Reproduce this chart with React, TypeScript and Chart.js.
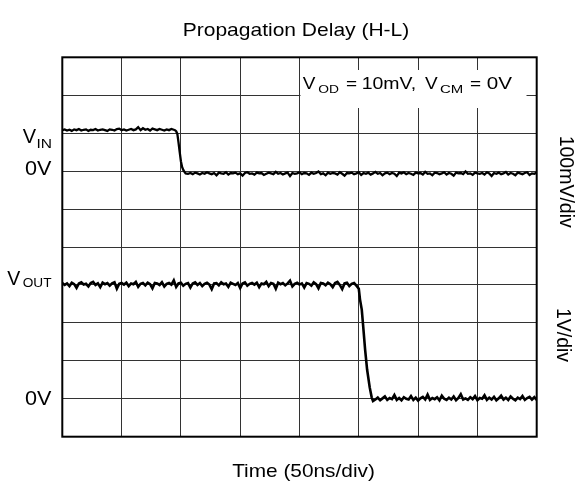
import { useEffect, useRef } from "react";
import { Chart, registerables } from "chart.js";

Chart.register(...registerables);

const FONT = '"Liberation Sans", Arial, Helvetica, sans-serif';

// ---- text ----
const titleText = "Propagation Delay (H-L)";
const xAxisText = "Time (50ns/div)";
const vinScaleText = "100mV/div";
const voutScaleText = "1V/div";

// ---- axes (time in ns, V_IN in mV, V_OUT in V) ----
const timeRange = [0, 400];
const timeStep = 50;
const vinRange = [-700, 300];
const vinStep = 100;
const voutRange = [-1, 9];

// ---- traces: [time ns, value] ----
const vinTrace: [number, number][] = [
  [0, 108], [2, 110], [4, 107], [6, 109], [8, 106], [10, 110], [12, 108], [14, 111], [16, 107], [18, 109],
  [20, 110], [22, 106], [24, 109], [26, 108], [28, 111], [30, 107], [32, 109], [34, 110], [36, 108], [38, 106],
  [40, 110], [42, 109], [44, 107], [46, 111], [48, 112], [50, 108], [52, 110], [54, 107], [56, 109], [58, 111],
  [60, 108], [62, 110], [64, 116], [66, 108], [68, 113], [70, 109], [72, 111], [74, 107], [76, 112], [78, 110],
  [80, 108], [82, 111], [84, 109], [86, 107], [88, 110], [90, 108], [92, 111], [94, 109],
  [95, 108], [96, 105], [97, 98], [98, 75], [99, 50], [100, 26], [101, 11], [102, 3], [103, -2], [104, -6],
  [106, -7], [108, -5], [110, -8], [112, -4], [114, -6], [116, -9], [118, -5], [120, -7], [122, -3], [124, -6],
  [126, -8], [128, -5], [130, -11], [132, -4], [134, -6], [136, -7], [138, -3], [140, -9], [142, -5], [144, -6],
  [146, -4], [148, -8], [150, -6], [152, -12], [154, -5], [156, -3], [158, -7], [160, -6], [162, -9], [164, -4],
  [166, -6], [168, -5], [170, -10], [172, -7], [174, -4], [176, -6], [178, -8], [180, -2], [182, -7], [184, -5],
  [186, -9], [188, -6], [190, -4], [192, -13], [194, -5], [196, -7], [198, -6], [200, -3], [202, -8], [204, -5],
  [206, -6], [208, -10], [210, -4], [212, -7], [214, -5], [216, -1], [218, -8], [220, -6], [222, -11], [224, -4],
  [226, -7], [228, -5], [230, -6], [232, -9], [234, -3], [236, -7], [238, -12], [240, -5], [242, -6], [244, -4],
  [246, -8], [248, -6], [250, -3], [252, -10], [254, -5], [256, -7], [258, -4], [260, -9], [262, -6], [264, -2],
  [266, -7], [268, -5], [270, -11], [272, -6], [274, -4], [276, -8], [278, -5], [280, -7], [282, -13], [284, -4],
  [286, -6], [288, -3], [290, -8], [292, -5], [294, -7], [296, -10], [298, -4], [300, -6], [302, -5], [304, -9],
  [306, -2], [308, -7], [310, -6], [312, -11], [314, -4], [316, -5], [318, -8], [320, -6], [322, -3], [324, -9],
  [326, -5], [328, -7], [330, -12], [332, -4], [334, -6], [336, -5], [338, -8], [340, -1], [342, -7], [344, -6],
  [346, -10], [348, -4], [350, -6], [352, -7], [354, -5], [356, -9], [358, -3], [360, -6], [362, -13], [364, -5],
  [366, -7], [368, -4], [370, -8], [372, -6], [374, -2], [376, -9], [378, -5], [380, -7], [382, -11], [384, -4],
  [386, -6], [388, -8], [390, -5], [392, -3], [394, -10], [396, -6], [398, -7], [400, -4],
];

const voutTrace: [number, number][] = [
  [0, 3.05], [2, 3.0], [4, 3.04], [6, 2.97], [8, 3.06], [10, 3.02], [12, 2.92], [14, 3.04], [16, 3.07], [18, 3.01],
  [20, 3.03], [22, 2.96], [24, 3.05], [26, 3.08], [28, 3.0], [30, 3.04], [32, 2.94], [34, 3.06], [36, 3.02], [38, 3.05],
  [40, 2.98], [42, 3.04], [44, 3.07], [46, 2.9], [48, 3.03], [50, 3.05], [52, 3.01], [54, 3.06], [56, 2.97], [58, 3.04],
  [60, 3.02], [62, 3.08], [64, 2.95], [66, 3.03], [68, 3.05], [70, 2.99], [72, 3.06], [74, 3.02], [76, 2.91], [78, 3.05],
  [80, 3.04], [82, 3.0], [84, 3.07], [86, 2.96], [88, 3.03], [90, 3.05], [92, 3.01], [94, 3.12], [96, 2.95], [98, 3.04],
  [100, 3.06], [102, 2.98], [104, 3.03], [106, 3.05], [108, 2.93], [110, 3.04], [112, 3.07], [114, 3.0], [116, 3.05], [118, 2.97],
  [120, 3.03], [122, 3.06], [124, 3.01], [126, 2.89], [128, 3.04], [130, 3.05], [132, 2.99], [134, 3.07], [136, 3.02], [138, 3.04],
  [140, 2.95], [142, 3.06], [144, 3.03], [146, 3.0], [148, 3.05], [150, 2.92], [152, 3.04], [154, 3.07], [156, 2.98], [158, 3.03],
  [160, 3.05], [162, 3.01], [164, 3.06], [166, 2.94], [168, 3.04], [170, 3.02], [172, 3.08], [174, 2.97], [176, 3.05], [178, 3.03],
  [180, 2.9], [182, 3.06], [184, 3.02], [186, 3.05], [188, 2.99], [190, 3.04], [192, 3.11], [194, 2.96], [196, 3.03], [198, 3.06],
  [200, 3.01], [202, 3.04], [204, 2.93], [206, 3.05], [208, 3.03], [210, 2.98], [212, 3.07], [214, 3.02], [216, 2.91], [218, 3.05],
  [220, 3.04], [222, 2.99], [224, 3.06], [226, 3.02], [228, 2.94], [230, 3.05], [232, 3.08], [234, 3.0], [236, 2.89], [238, 3.04],
  [240, 3.06], [242, 2.97], [244, 3.03], [246, 3.05], [248, 2.98],
  [250, 2.9], [251, 2.62], [252.5, 2.35], [253.6, 1.95], [255.3, 1.3], [257, 0.77], [259.2, 0.3],
  [260.9, 0.03], [262, -0.06],
  [264, -0.02], [266, 0.03], [268, -0.04], [270, 0.01], [272, 0.06], [274, -0.03], [276, 0.02], [278, -0.01], [280, 0.1], [282, -0.03],
  [284, 0.02], [286, -0.04], [288, 0.04], [290, 0.0], [292, -0.02], [294, 0.07], [296, -0.03], [298, 0.03], [300, -0.05], [302, 0.01],
  [304, 0.05], [306, -0.02], [308, 0.11], [310, -0.03], [312, 0.02], [314, -0.01], [316, 0.04], [318, -0.04], [320, 0.08], [322, 0.0],
  [324, -0.03], [326, 0.03], [328, -0.02], [330, 0.06], [332, -0.04], [334, 0.02], [336, 0.12], [338, -0.02], [340, 0.01], [342, -0.03],
  [344, 0.04], [346, -0.01], [348, 0.07], [350, -0.04], [352, 0.02], [354, 0.0], [356, 0.09], [358, -0.03], [360, 0.03], [362, -0.02],
  [364, 0.05], [366, -0.04], [368, 0.01], [370, 0.08], [372, -0.02], [374, 0.03], [376, -0.03], [378, 0.06], [380, 0.0], [382, -0.04],
  [384, 0.03], [386, -0.01], [388, 0.07], [390, -0.03], [392, 0.02], [394, 0.05], [396, -0.02], [398, 0.04], [400, -0.03],
];

function drawText(
  ctx: CanvasRenderingContext2D,
  s: string,
  x: number,
  y: number,
  size: number,
  sx = 1,
  align: CanvasTextAlign = "left",
  rot = 0
) {
  ctx.save();
  ctx.font = `${size}px ${FONT}`;
  ctx.fillStyle = "#000";
  ctx.textAlign = align;
  ctx.textBaseline = "alphabetic";
  ctx.translate(x, y);
  if (rot) ctx.rotate(rot);
  ctx.scale(sx, 1);
  ctx.fillText(s, 0, 0);
  ctx.restore();
}

const annotatePlugin = {
  id: "annotate",
  beforeDatasetsDraw(chart: any) {
    const { ctx, chartArea: a } = chart;
    ctx.save();
    // white box behind the condition text
    ctx.fillStyle = "#fff";
    ctx.fillRect(300.5, 70, 226, 38);
    // frame
    ctx.strokeStyle = "#000";
    ctx.lineWidth = 2;
    ctx.strokeRect(a.left, a.top, a.right - a.left, a.bottom - a.top);
    ctx.restore();
  },
  afterDraw(chart: any) {
    const ctx = chart.ctx as CanvasRenderingContext2D;
    // title & x label
    drawText(ctx, titleText, 296, 35.7, 18.6, 1.13, "center");
    drawText(ctx, xAxisText, 303.5, 476.7, 18.6, 1.12, "center");
    // condition text
    drawText(ctx, "V", 302.7, 88.5, 16.5, 1.15);
    drawText(ctx, "OD", 318.3, 93, 11.5, 1.2);
    drawText(ctx, "=", 346, 88.5, 16.5, 1.15);
    drawText(ctx, "10mV,", 361.7, 88.5, 16.5, 1.18);
    drawText(ctx, "V", 425, 88.5, 16.5, 1.15);
    drawText(ctx, "CM", 440, 93, 11.5, 1.3);
    drawText(ctx, "=", 470, 88.5, 16.5, 1.15);
    drawText(ctx, "0V", 486.7, 88.5, 16.5, 1.25);
    // left labels
    drawText(ctx, "V", 22.7, 143, 20, 1.0);
    drawText(ctx, "IN", 36.5, 147.5, 13.5, 1.15);
    drawText(ctx, "0V", 25, 175, 20, 1.08);
    drawText(ctx, "V", 7.3, 285, 19.5, 1.0);
    drawText(ctx, "OUT", 22.7, 286.7, 13, 1.05);
    drawText(ctx, "0V", 25, 405, 20, 1.08);
    // right rotated labels
    drawText(ctx, vinScaleText, 560, 181.7, 19.5, 1, "center", Math.PI / 2);
    drawText(ctx, voutScaleText, 557, 335, 19.5, 1, "center", Math.PI / 2);
  },
};

export default function App() {
  const ref = useRef<HTMLCanvasElement | null>(null);

  useEffect(() => {
    if (!ref.current) return;
    const chart = new Chart(ref.current, {
      type: "scatter",
      data: {
        datasets: [
          {
            label: "V_IN",
            data: vinTrace.map(([t, v]) => ({ x: t, y: v })),
            yAxisID: "yIn",
            showLine: true,
            borderColor: "#000",
            borderWidth: 2.3,
            pointRadius: 0,
            tension: 0,
          },
          {
            label: "V_OUT",
            data: voutTrace.map(([t, v]) => ({ x: t, y: v })),
            yAxisID: "yOut",
            showLine: true,
            borderColor: "#000",
            borderWidth: 2.6,
            pointRadius: 0,
            tension: 0,
          },
        ],
      },
      options: {
        responsive: false,
        animation: false,
        events: [],
        layout: { padding: { left: 62.3, right: 44.3, top: 57.3, bottom: 59.3 } },
        plugins: {
          legend: { display: false },
          tooltip: { enabled: false },
          title: { display: false },
        },
        scales: {
          x: {
            type: "linear",
            min: timeRange[0],
            max: timeRange[1],
            ticks: { display: false, stepSize: timeStep },
            grid: { color: "#333", lineWidth: 1, drawTicks: false },
            border: { display: false },
          },
          yIn: {
            type: "linear",
            position: "left",
            min: vinRange[0],
            max: vinRange[1],
            ticks: { display: false, stepSize: vinStep },
            grid: { color: "#333", lineWidth: 1, drawTicks: false },
            border: { display: false },
          },
          yOut: {
            type: "linear",
            display: false,
            min: voutRange[0],
            max: voutRange[1],
          },
        },
      },
      plugins: [annotatePlugin],
    });
    return () => chart.destroy();
  }, []);

  return (
    <div style={{ position: "fixed", left: 0, top: 0, width: 581, height: 496, background: "#fff" }}>
      <canvas ref={ref} width={581} height={496} style={{ display: "block" }} />
    </div>
  );
}
